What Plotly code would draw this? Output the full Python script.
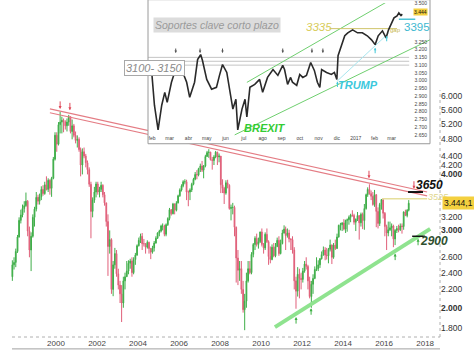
import math
import pandas as pd
import plotly.graph_objects as go

# ---------------- Main chart: monthly candles (Nov 1997 - Mar 2017) ----------------
first_month = "1997-11-01"
first_open = 2350
close = [
    2500, 2532,                                                              # 1997
    2680, 2890, 3150, 3240, 3350, 3400, 3480, 2980, 2700, 2900, 3200, 3340,  # 1998
    3550, 3480, 3560, 3700, 3620, 3790, 3700, 3880, 3720, 3920, 4330, 4904,  # 1999
    4680, 5180, 5250, 5300, 5250, 5150, 5250, 5400, 5000, 5150, 4900, 4772,  # 2000
    4800, 4550, 4200, 4500, 4400, 4250, 4100, 3800, 3300, 3500, 3650, 3806,  # 2001
    3650, 3700, 3780, 3600, 3450, 3130, 2750, 2850, 2200, 2500, 2650, 2386,  # 2002
    2250, 2150, 2050, 2300, 2350, 2420, 2520, 2550, 2400, 2570, 2630, 2761,  # 2003
    2840, 2900, 2790, 2790, 2740, 2810, 2720, 2670, 2730, 2800, 2870, 2951,  # 2004
    2980, 3060, 3060, 2930, 3080, 3180, 3330, 3260, 3430, 3320, 3450, 3579,  # 2005
    3690, 3770, 3850, 3850, 3650, 3650, 3690, 3800, 3900, 4000, 3990, 4120,  # 2006
    4180, 4090, 4180, 4390, 4480, 4490, 4320, 4300, 4380, 4490, 4380, 4400,  # 2007
    3790, 3720, 3630, 3830, 3780, 3350, 3370, 3370, 3040, 2590, 2430, 2451,  # 2008
    2200, 1980, 2070, 2300, 2450, 2400, 2640, 2780, 2870, 2780, 2820, 2966,  # 2009
    2780, 2730, 2930, 2820, 2610, 2570, 2740, 2620, 2750, 2840, 2650, 2793,  # 2010
    2950, 3010, 2910, 2950, 2860, 2850, 2700, 2300, 2180, 2380, 2330, 2317,  # 2011
    2420, 2510, 2480, 2300, 2120, 2260, 2330, 2440, 2450, 2500, 2580, 2636,  # 2012
    2700, 2630, 2620, 2710, 2770, 2600, 2770, 2720, 2890, 3070, 3080, 3109,  # 2013
    3010, 3150, 3160, 3200, 3240, 3230, 3120, 3170, 3230, 3110, 3250, 3146,  # 2014
    3350, 3600, 3700, 3620, 3570, 3420, 3600, 3300, 3100, 3420, 3510, 3268,  # 2015
    3050, 2950, 3000, 3030, 3060, 2860, 2990, 3020, 3000, 3060, 3050, 3291,  # 2016
    3230, 3320, 3444,                                                        # 2017
]
high = [
    2560, 2600,
    2720, 2920, 3200, 3330, 3420, 3480, 3640, 3500, 3050, 2960, 3250, 3380,
    3650, 3600, 3620, 3760, 3780, 3850, 3960, 3920, 3900, 3950, 4380, 4980,
    4980, 5250, 5537, 5400, 5350, 5300, 5350, 5450, 5400, 5320, 5200, 5000,
    4900, 4850, 4600, 4580, 4600, 4450, 4300, 4150, 3850, 3550, 3750, 3850,
    3850, 3750, 3850, 3800, 3650, 3450, 3250, 2990, 2870, 2550, 2730, 2700,
    2450, 2300, 2250, 2350, 2400, 2550, 2560, 2580, 2600, 2600, 2660, 2780,
    2880, 2940, 2950, 2860, 2800, 2840, 2820, 2730, 2760, 2830, 2900, 2960,
    3000, 3080, 3100, 3080, 3100, 3200, 3360, 3340, 3450, 3440, 3480, 3600,
    3720, 3800, 3880, 3900, 3890, 3680, 3720, 3830, 3930, 4050, 4090, 4140,
    4230, 4290, 4200, 4430, 4520, 4560, 4500, 4380, 4420, 4520, 4500, 4460,
    4400, 3900, 3750, 3880, 3890, 3800, 3420, 3450, 3400, 3050, 2700, 2550,
    2550, 2300, 2150, 2400, 2550, 2550, 2670, 2800, 2900, 2940, 2880, 2970,
    3020, 2800, 2960, 3020, 2840, 2750, 2780, 2800, 2800, 2880, 2900, 2850,
    3000, 3070, 3050, 3020, 3000, 2870, 2900, 2740, 2350, 2470, 2450, 2400,
    2460, 2550, 2600, 2500, 2350, 2300, 2380, 2480, 2600, 2560, 2590, 2680,
    2750, 2740, 2730, 2730, 2850, 2780, 2800, 2850, 2940, 3080, 3110, 3120,
    3170, 3160, 3180, 3230, 3260, 3320, 3260, 3180, 3290, 3230, 3280, 3280,
    3430, 3620, 3740, 3800, 3680, 3650, 3690, 3610, 3370, 3450, 3520, 3500,
    3290, 3080, 3130, 3130, 3100, 3080, 3010, 3060, 3080, 3100, 3100, 3300,
    3330, 3340, 3500,
]
low = [
    2300, 2440,
    2470, 2660, 2880, 3100, 3200, 3280, 3380, 2900, 2600, 2420, 2880, 3050,
    3300, 3420, 3420, 3500, 3580, 3600, 3680, 3650, 3600, 3560, 3900, 4300,
    4500, 4650, 4950, 4950, 4980, 5050, 5000, 5150, 4950, 4800, 4850, 4700,
    4600, 4500, 3960, 4000, 4350, 4150, 4000, 3750, 2870, 3200, 3450, 3550,
    3600, 3550, 3650, 3550, 3400, 3050, 2360, 2650, 2150, 2124, 2450, 2350,
    2200, 2050, 1857, 2000, 2200, 2350, 2380, 2450, 2350, 2380, 2500, 2620,
    2750, 2800, 2700, 2750, 2650, 2720, 2650, 2575, 2650, 2680, 2790, 2860,
    2900, 2960, 2990, 2900, 2900, 3060, 3150, 3230, 3250, 3250, 3300, 3440,
    3560, 3660, 3740, 3800, 3500, 3390, 3500, 3650, 3780, 3880, 3900, 3960,
    4050, 4050, 3920, 4150, 4380, 4360, 4300, 4100, 4200, 4350, 4200, 4260,
    3630, 3630, 3430, 3600, 3720, 3330, 3150, 3250, 2900, 2280, 2250, 2300,
    2150, 1950, 1780, 2000, 2280, 2380, 2380, 2600, 2700, 2750, 2720, 2800,
    2750, 2650, 2700, 2800, 2500, 2520, 2560, 2600, 2600, 2740, 2620, 2640,
    2780, 2940, 2700, 2880, 2810, 2700, 2650, 2200, 1990, 2120, 2100, 2200,
    2280, 2400, 2440, 2200, 2100, 2000, 2150, 2320, 2420, 2420, 2460, 2570,
    2620, 2560, 2570, 2520, 2680, 2510, 2580, 2700, 2720, 2880, 2990, 2980,
    2990, 2950, 2970, 3080, 3120, 3210, 3080, 2980, 3140, 2850, 3050, 3010,
    3000, 3330, 3560, 3600, 3500, 3400, 3380, 3040, 3020, 3060, 3330, 3180,
    2900, 2700, 2900, 2980, 2900, 2740, 2770, 2950, 2960, 2980, 2940, 3000,
    3220, 3200, 3300,
]
assert len(close) == len(high) == len(low)

main_year_ticks = ["2000-01-01", "2002-01-01", "2004-01-01", "2006-01-01", "2008-01-01",
                   "2010-01-01", "2012-01-01", "2014-01-01", "2016-01-01", "2018-01-01"]
main_y_ticks = [6000, 5600, 5200, 4800, 4400, 4200, 4000, 3200, 3000, 2600, 2400, 2200, 2000, 1800]
main_bold_ticks = [4000, 3000, 2000]
last_price = 3444.1

# trend lines / levels on the main chart
resist_dates = ["1999-09-15", "2018-02-06"]
resist_upper = [5623, 3650]
resist_lower = [5510, 3577]
support_dates = ["2010-09-05", "2018-04-01"]
support_vals = [1809, 3013]
lvl_3525_dates = ["2015-11-24", "2018-02-06"]
lvl_3525 = 3525
lvl_3650_dates = ["2017-03-03", "2017-11-24"]
lvl_3650 = 3650
lvl_2900_dates = ["2017-05-15", "2018-01-01"]
lvl_2900 = 2900
red_arrow_dates = ["2000-03-15", "2000-09-05", "2015-04-07", "2017-06-16"]
red_arrow_vals = [5623, 5580, 3921, 3713]
green_arrow_dates = ["2011-09-16", "2012-06-10", "2016-07-16", "2017-08-28"]
green_arrow_vals = [1905, 1995, 2650, 2863]

# ---------------- Inset: short-term chart (Jan 2016 - Mar 2017) ----------------
inset_dates = [
    "2016-01-25", "2016-02-01", "2016-02-05", "2016-02-11", "2016-02-17", "2016-02-22", "2016-02-26",
    "2016-03-04", "2016-03-13", "2016-03-17", "2016-03-23", "2016-03-29", "2016-04-03", "2016-04-11",
    "2016-04-16", "2016-04-21", "2016-04-24", "2016-05-01", "2016-05-09", "2016-05-17", "2016-05-22",
    "2016-05-27", "2016-06-03", "2016-06-08", "2016-06-13", "2016-06-18", "2016-06-21", "2016-06-28",
    "2016-07-03", "2016-07-06", "2016-07-11", "2016-07-19", "2016-07-27", "2016-08-01", "2016-08-09",
    "2016-08-18", "2016-08-26", "2016-09-03", "2016-09-06", "2016-09-11", "2016-09-16", "2016-09-19",
    "2016-09-26", "2016-10-01", "2016-10-06", "2016-10-12", "2016-10-19", "2016-10-25", "2016-10-30",
    "2016-11-03", "2016-11-06", "2016-11-14", "2016-11-22", "2016-11-27", "2016-12-01", "2016-12-03",
    "2016-12-09", "2016-12-14", "2016-12-19", "2016-12-27", "2017-01-04", "2017-01-12", "2017-01-20",
    "2017-01-27", "2017-02-02", "2017-02-07", "2017-02-14", "2017-02-20", "2017-02-24", "2017-03-01",
    "2017-03-05", "2017-03-10", "2017-03-13", "2017-03-17", "2017-03-18",
]
inset_close = [
    3053, 3034, 2842, 2683, 2842, 2925, 2860,
    2990, 3100, 3070, 3050, 2990, 2893, 2990,
    3136, 3168, 3130, 3008, 2945, 2957, 3034,
    3104, 3053, 2925, 2817, 2880, 2683, 2817,
    2880, 2766, 2957, 2976, 3008, 2925, 3021,
    3072, 3034, 3098, 3072, 2976, 3021, 2990,
    2970, 3040, 3021, 3034, 3117, 3066, 2990,
    2957, 3072, 3053, 3040, 3053, 3008, 3161,
    3232, 3289, 3308, 3327, 3308, 3308, 3289,
    3263, 3232, 3289, 3321, 3276, 3327, 3372,
    3404, 3417, 3436, 3417, 3430,
]
assert len(inset_dates) == len(inset_close)

inset_y_ticks = [2650, 2700, 2750, 2800, 2850, 2900, 2950, 3000, 3050, 3100, 3150, 3200, 3250, 3500]
inset_month_starts = ["2016-02-01", "2016-03-01", "2016-04-01", "2016-05-01", "2016-06-01", "2016-07-01",
                      "2016-08-01", "2016-09-01", "2016-10-01", "2016-11-01", "2016-12-01", "2017-01-01",
                      "2017-02-01", "2017-03-01"]
inset_month_labels = ["feb", "mar", "abr", "may", "jun", "jul", "ago", "sep", "oct", "nov", "dic",
                      "2017", "feb", "mar"]
inset_last = 3444
support_zone = [3150, 3125, 3100]
zone_dates = ["2016-01-25", "2017-03-30"]
chan_up_dates = ["2016-07-06", "2017-03-01"]
chan_up_vals = [2989, 3525]
chan_lo_dates = ["2016-06-16", "2017-05-03"]
chan_lo_vals = [2651, 3263]
trump_line_dates = ["2016-12-01", "2017-02-24"]
trump_line_vals = [2995, 3305]
lvl_3335_dates = ["2016-11-19", "2017-03-10"]
lvl_3335 = 3335
lvl_3395_dates = ["2017-03-13", "2017-04-09"]
lvl_3395 = 3395
top_arrow_dates = ["2016-03-11", "2016-04-20", "2016-05-27", "2016-09-03", "2016-10-21", "2016-11-08"]
top_arrow_val = 3178
cyan_arrow_dates = ["2016-12-02", "2017-02-02", "2017-02-21"]
cyan_arrow_vals = [2995, 3212, 3289]

# ---------------- layout geometry ----------------
W, H = 474, 354
ML, MR, MT, MB = 0, 34, 0, 17
PW, PH = W - ML - MR, H - MT - MB
INSET_X = (148 / PW, 430 / PW)
INSET_Y = (1 - 142 / PH, 1.0)
x2_range = ["2016-01-25 10:00", "2017-05-03 05:00"]
y2_range = [2594, 3500]

FONT = "Liberation Sans, Arial, sans-serif"


def fmt(v):
    return f"{v:,}".replace(",", ".")


opens = [first_open] + close[:-1]
highs = [max(h, o, c) for h, o, c in zip(high, opens, close)]
lows = [min(l, o, c) for l, o, c in zip(low, opens, close)]
months = pd.date_range(first_month, periods=len(close), freq="MS") + pd.Timedelta(days=14)

fig = go.Figure()

# main candles
fig.add_trace(go.Candlestick(
    x=months, open=opens, high=highs, low=lows, close=close,
    increasing=dict(line=dict(color="#3fae49", width=1), fillcolor="#3fae49"),
    decreasing=dict(line=dict(color="#e0607a", width=1), fillcolor="#e0607a"),
    whiskerwidth=0, xaxis="x", yaxis="y", hoverinfo="skip"))

line_kw = dict(mode="lines", xaxis="x", yaxis="y", hoverinfo="skip")
fig.add_trace(go.Scatter(x=resist_dates, y=resist_upper, line=dict(color="#e47c84", width=1.1), **line_kw))
fig.add_trace(go.Scatter(x=resist_dates, y=resist_lower, line=dict(color="#e47c84", width=1.1), **line_kw))
fig.add_trace(go.Scatter(x=support_dates, y=support_vals, line=dict(color="#8fe38f", width=4), **line_kw))
fig.add_trace(go.Scatter(x=lvl_3525_dates, y=[lvl_3525] * 2, line=dict(color="#e6df9c", width=1.5), **line_kw))
fig.add_trace(go.Scatter(x=lvl_3650_dates, y=[lvl_3650] * 2, line=dict(color="#111", width=2), **line_kw))
fig.add_trace(go.Scatter(x=lvl_2900_dates, y=[lvl_2900] * 2, line=dict(color="#111", width=1.5), **line_kw))

# inset traces
ikw = dict(mode="lines", xaxis="x2", yaxis="y2", hoverinfo="skip")
for lvl in support_zone:
    fig.add_trace(go.Scatter(x=zone_dates, y=[lvl] * 2, line=dict(color="#c4c4c4", width=1), **ikw))
fig.add_trace(go.Scatter(x=chan_up_dates, y=chan_up_vals, line=dict(color="#6fcf6f", width=1), **ikw))
fig.add_trace(go.Scatter(x=chan_lo_dates, y=chan_lo_vals, line=dict(color="#6fcf6f", width=1), **ikw))
fig.add_trace(go.Scatter(x=trump_line_dates, y=trump_line_vals, line=dict(color="#a8e6ef", width=1), **ikw))
fig.add_trace(go.Scatter(x=lvl_3335_dates, y=[lvl_3335] * 2, line=dict(color="#cfc46a", width=1), **ikw))
fig.add_trace(go.Scatter(x=lvl_3395_dates, y=[lvl_3395] * 2, line=dict(color="#4ec3d6", width=1.5), **ikw))
fig.add_trace(go.Scatter(x=inset_dates, y=inset_close, line=dict(color="#2a2a2a", width=1.6), **ikw))

annotations = []
# main arrows
for d, v in zip(red_arrow_dates, red_arrow_vals):
    annotations.append(dict(x=d, y=math.log10(v), xref="x", yref="y", text="", showarrow=True,
                            ax=0, ay=-9, arrowhead=2, arrowsize=0.6, arrowwidth=1, arrowcolor="#e04a5a"))
for d, v in zip(green_arrow_dates, green_arrow_vals):
    annotations.append(dict(x=d, y=math.log10(v), xref="x", yref="y", text="", showarrow=True,
                            ax=0, ay=8, arrowhead=2, arrowsize=0.6, arrowwidth=1, arrowcolor="#3cb043"))
# main labels
annotations += [
    dict(x="2018-03-15", y=math.log10(lvl_3650), xref="x", yref="y", yshift=7, showarrow=False,
         text="<b><i>3650</i></b>", font=dict(size=12, color="#111", family=FONT)),
    dict(x="2018-08-20", y=math.log10(lvl_3525), xref="x", yref="y", yshift=2, showarrow=False,
         text="<i>3525</i>", font=dict(size=9, color="#e0d68a", family=FONT)),
    dict(x="2018-06-10", y=math.log10(lvl_2900), xref="x", yref="y", yshift=-5, showarrow=False,
         text="<b><i>2900</i></b>", font=dict(size=12, color="#2f4f2f", family=FONT)),
    dict(x=1, y=math.log10(last_price), xref="paper", yref="y", xanchor="left", xshift=2,
         showarrow=False, text=f"{fmt(int(last_price))},{str(last_price).split('.')[1]}",
         font=dict(size=8.5, color="#111", family=FONT), bgcolor="#f4d03f", borderpad=1),
]
# inset arrows
for d in top_arrow_dates:
    annotations.append(dict(x=d, y=top_arrow_val, xref="x2", yref="y2", text="", showarrow=True,
                            ax=0, ay=-6, arrowhead=2, arrowsize=0.5, arrowwidth=1, arrowcolor="#555"))
for d, v in zip(cyan_arrow_dates, cyan_arrow_vals):
    annotations.append(dict(x=d, y=v, xref="x2", yref="y2", text="", showarrow=True,
                            ax=0, ay=7, arrowhead=2, arrowsize=0.5, arrowwidth=1, arrowcolor="#40c8d8"))
# inset labels
annotations += [
    dict(x="2016-08-05", y=2696, xref="x2", yref="y2", showarrow=False,
         text="<b><i>BREXIT</i></b>", font=dict(size=11, color="#33cc33", family=FONT)),
    dict(x="2017-01-04", y=2970, xref="x2", yref="y2", showarrow=False,
         text="<b><i>TRUMP</i></b>", font=dict(size=11, color="#3cc8dc", family=FONT)),
    dict(x="2016-11-01", y=3346, xref="x2", yref="y2", showarrow=False,
         text="<i>3335</i>", font=dict(size=11.5, color="#d8cc5a", family=FONT)),
    dict(x="2017-03-07", y=3325, xref="x2", yref="y2", showarrow=False,
         text="gap", font=dict(size=6, color="#c8b850", family=FONT)),
    dict(x="2017-04-11", y=3346, xref="x2", yref="y2", showarrow=False,
         text="3395", font=dict(size=11.5, color="#3db8d0", family=FONT)),
    dict(x=1, y=inset_last, xref="x2 domain", yref="y2", xanchor="right", xshift=-2, showarrow=False,
         text=fmt(inset_last), font=dict(size=5, color="#111", family=FONT), bgcolor="#f4d03f", borderpad=0),
    dict(x=217 / PW, y=1 - 14 / PH, xref="paper", yref="paper", showarrow=False,
         text="<i>Soportes clave corto plazo</i>", font=dict(size=10.5, color="#9a9a9a", family=FONT),
         bgcolor="#dcdcdc", borderpad=1),
    dict(x=124 / PW, y=1 - 57.5 / PH, xref="paper", yref="paper", showarrow=False,
         text=f"<i>{support_zone[-1]}- {support_zone[0]}</i>",
         font=dict(size=11, color="#8a8a8a", family=FONT),
         bgcolor="white", bordercolor="#a8a8a8", borderwidth=1, borderpad=1),
]

shapes = [
    # white background of inset (drawn in the inset subplot, above main traces)
    dict(type="rect", xref="x2", yref="y2", x0=x2_range[0], x1=x2_range[1], y0=y2_range[0], y1=y2_range[1],
         fillcolor="white", line=dict(width=0), layer="below"),
    # inset border
    dict(type="rect", xref="paper", yref="paper", x0=INSET_X[0], x1=INSET_X[1], y0=INSET_Y[0], y1=1.01,
         line=dict(color="#9a9a9a", width=1), fillcolor="rgba(0,0,0,0)", layer="above"),
    # dotted main x axis line
    dict(type="line", xref="paper", yref="paper", x0=12 / PW, x1=1, y0=0, y1=0,
         line=dict(color="#b0b0b0", width=1, dash="dot"), layer="below"),
    # solid line under year labels
    dict(type="line", xref="paper", yref="paper", x0=12 / PW, x1=1, y0=-12 / PH, y1=-12 / PH,
         line=dict(color="#a0a0a0", width=1), layer="below"),
    # dotted right axis line
    dict(type="line", xref="paper", yref="paper", x0=1, x1=1, y0=0, y1=1 - 88 / PH,
         line=dict(color="#b0b0b0", width=1, dash="dot"), layer="below"),
]

fig.update_layout(
    width=W, height=H, margin=dict(l=ML, r=MR, t=MT, b=MB),
    paper_bgcolor="white", plot_bgcolor="white", showlegend=False,
    font=dict(family=FONT, color="#333"),
    xaxis=dict(type="date", domain=[0, 1], anchor="y", range=["1997-04-09", "2018-09-23"],
               showgrid=False, zeroline=False, showline=False, ticks="",
               tickvals=main_year_ticks, tickformat="%Y",
               tickfont=dict(size=8, color="#444", family=FONT), rangeslider=dict(visible=False)),
    yaxis=dict(type="log", domain=[0, 1], anchor="x", side="right",
               range=[math.log10(1718), math.log10(9750)],
               showgrid=False, zeroline=False, showline=False, ticks="",
               tickvals=main_y_ticks,
               ticktext=[f"<b>{fmt(v)}</b>" if v in main_bold_ticks else fmt(v) for v in main_y_ticks],
               tickfont=dict(size=8.5, color="#333", family=FONT)),
    xaxis2=dict(type="date", domain=list(INSET_X), anchor="y2", range=x2_range,
                showgrid=False, zeroline=False, showline=False, ticks="",
                tickvals=inset_month_starts, ticktext=inset_month_labels,
                ticklabelposition="inside", ticklabeloverflow="allow",
                tickfont=dict(size=5, color="#444", family=FONT)),
    yaxis2=dict(domain=list(INSET_Y), anchor="x2", side="right", range=y2_range,
                showgrid=False, zeroline=False, showline=False, ticks="",
                tickvals=inset_y_ticks, ticktext=[fmt(v) for v in inset_y_ticks],
                ticklabelposition="inside", ticklabeloverflow="allow",
                tickfont=dict(size=5, color="#444", family=FONT)),
    annotations=annotations, shapes=shapes,
)

fig.write_html("out.html")
